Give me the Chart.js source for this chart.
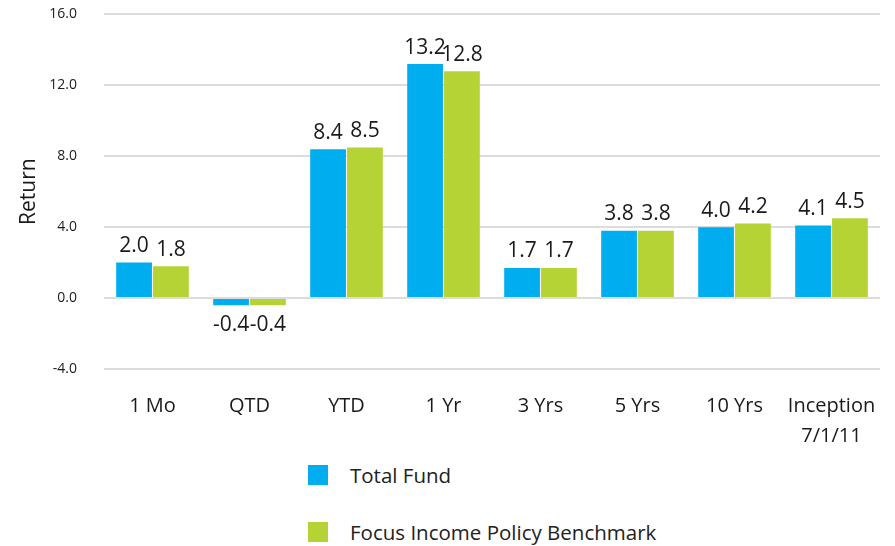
<!DOCTYPE html>
<html>
<head>
<meta charset="utf-8">
<script src="https://cdn.jsdelivr.net/npm/chart.js@4/dist/chart.umd.min.js"></script>
<style>
  body { margin: 0; background: #fff; font-family: "Open Sans", "Noto Sans", sans-serif; overflow: hidden; }
  #wrap { position: relative; width: 895px; height: 546px; overflow: hidden; }
  #chartBox { position: absolute; left: 0; top: -21px; width: 895px; height: 476px; }
  #legend { position: absolute; left: 308px; top: 465px; }
  .leg-item { display: flex; align-items: center; height: 20px; margin-bottom: 37px; font-size: 20.5px; color: #222; }
  .leg-box { width: 20px; height: 20px; margin-right: 22px; }
</style>
</head>
<body>
<div id="wrap">
  <div id="chartBox"><canvas id="chart"></canvas></div>
  <div id="legend"></div>
</div>
<script>
const categories = ['1 Mo', 'QTD', 'YTD', '1 Yr', '3 Yrs', '5 Yrs', '10 Yrs', ['Inception', '7/1/11']];
const totalFund = [2.0, -0.4, 8.4, 13.2, 1.7, 3.8, 4.0, 4.1];
const benchmark = [1.8, -0.4, 8.5, 12.8, 1.7, 3.8, 4.2, 4.5];
const yTicks = [-4, 0, 4, 8, 12, 16];

const BLUE = '#00aeef';
const GREEN = '#b5d334';
const FONT = "'Open Sans', 'Noto Sans', sans-serif";

// value labels above (or below, for negatives) each bar
const valueLabels = {
    id: 'valueLabels',
    afterDatasetsDraw(chart) {
        const ctx = chart.ctx;
        ctx.save();
        ctx.font = `21px ${FONT}`;
        ctx.fillStyle = '#1a1a1a';
        ctx.textAlign = 'center';
        chart.data.datasets.forEach((ds, i) => {
            chart.getDatasetMeta(i).data.forEach((bar, j) => {
                const v = ds.data[j];
                if (v >= 0) {
                    ctx.textBaseline = 'bottom';
                    ctx.fillText(v.toFixed(1), bar.x, bar.y - 6);
                } else {
                    ctx.textBaseline = 'top';
                    ctx.fillText(v.toFixed(1), bar.x, bar.y + 9);
                }
            });
        });
        ctx.restore();
    }
};

const chart = new Chart(document.getElementById('chart'), {
    type: 'bar',
    data: {
        labels: categories,
        datasets: [
            { label: 'Total Fund', data: totalFund, backgroundColor: BLUE },
            { label: 'Focus Income Policy Benchmark', data: benchmark, backgroundColor: GREEN }
        ]
    },
    options: {
        responsive: true,
        maintainAspectRatio: false,
        animation: false,
        datasets: {
            bar: { categoryPercentage: 0.76, barPercentage: 0.97 }
        },
        layout: { padding: { top: 0, right: 15, left: 0, bottom: 0 } },
        plugins: {
            legend: { display: false },
            tooltip: { enabled: false }
        },
        scales: {
            x: {
                grid: { display: false },
                border: { display: false },
                ticks: {
                    color: '#1a1a1a',
                    font: { family: FONT, size: 20, lineHeight: 1.5 },
                    padding: 14,
                    maxRotation: 0,
                    autoSkip: false
                },
                afterFit(axis) { axis.height = 86; }
            },
            y: {
                min: -4,
                max: 16,
                afterBuildTicks(axis) { axis.ticks = yTicks.map(v => ({ value: v })); },
                grid: { color: '#dcdcdc', lineWidth: 2, drawTicks: false },
                border: { display: false },
                ticks: {
                    color: '#1a1a1a',
                    font: { family: FONT, size: 14 },
                    padding: 27,
                    callback: v => v.toFixed(1)
                },
                title: {
                    display: true,
                    text: 'Return',
                    color: '#1a1a1a',
                    font: { family: FONT, size: 21 },
                    padding: { top: 16, bottom: 0 }
                },
                afterFit(axis) { axis.width = 104; }
            }
        }
    },
    plugins: [valueLabels]
});

// vertical legend under the chart
const legend = document.getElementById('legend');
chart.data.datasets.forEach(ds => {
    const item = document.createElement('div');
    item.className = 'leg-item';
    item.innerHTML = `<span class="leg-box" style="background:${ds.backgroundColor}"></span><span>${ds.label}</span>`;
    legend.appendChild(item);
});
</script>
</body>
</html>
